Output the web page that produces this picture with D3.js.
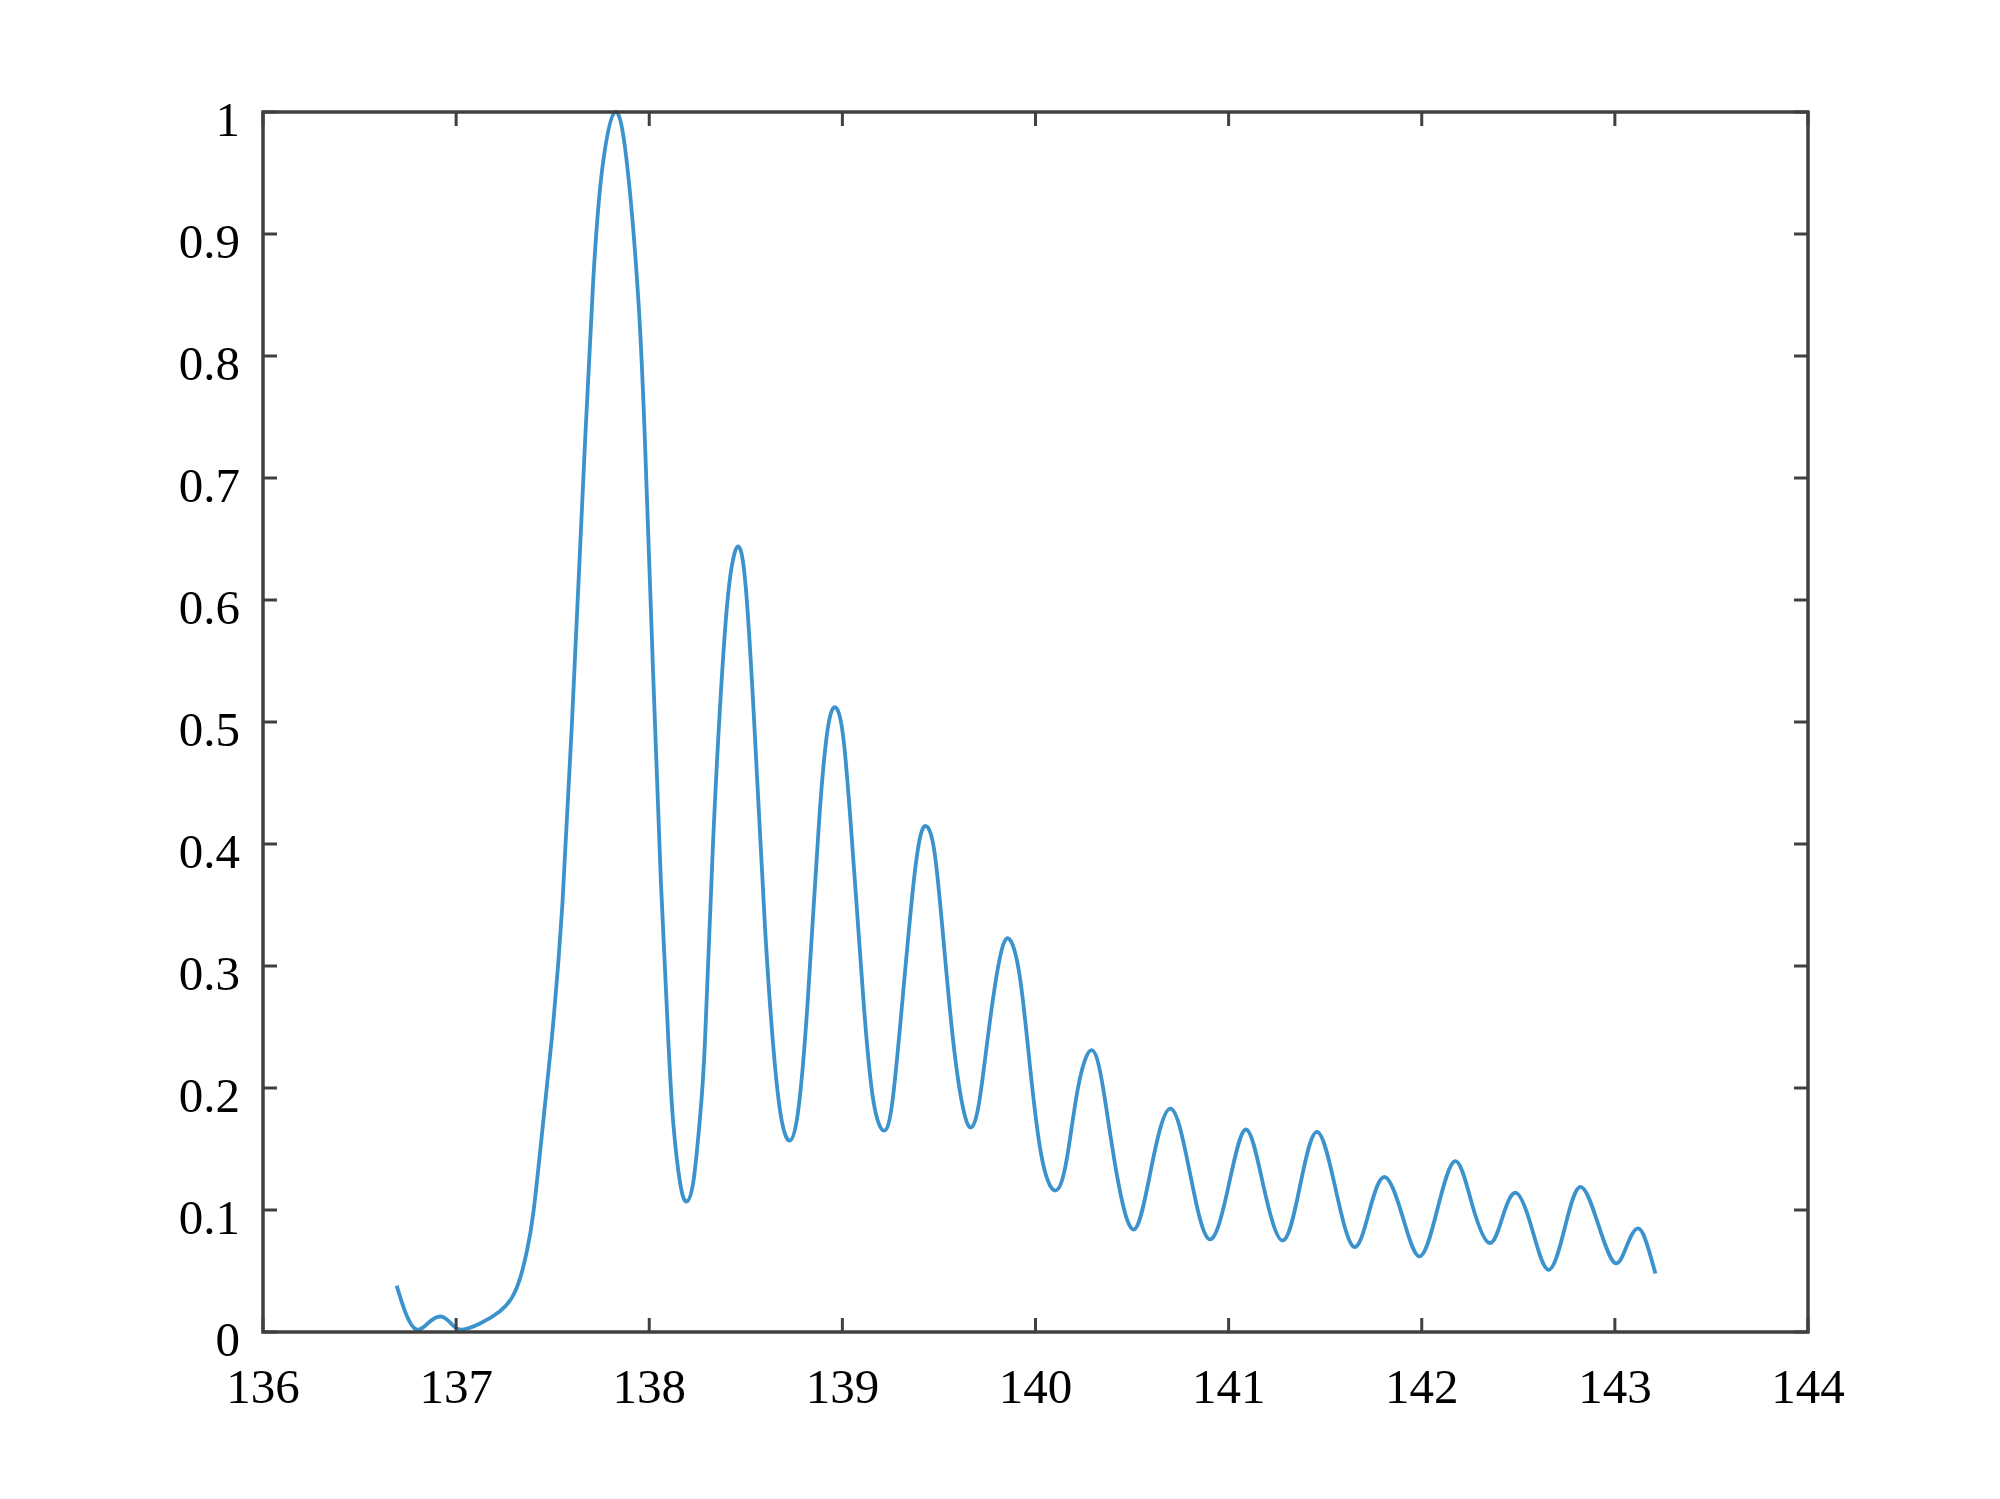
<!DOCTYPE html>
<html>
<head>
<meta charset="utf-8">
<script src="https://cdn.jsdelivr.net/npm/d3@7"></script>
<style>
  body { margin: 0; background: #fff; }
  svg { display: block; }
</style>
</head>
<body>
<svg id="chart" width="2000" height="1499"></svg>
<script>
// values
var xs = [136.692, 136.74, 136.796, 136.86, 136.925, 136.98, 137.029, 137.124, 137.227, 137.288,
  137.331, 137.366, 137.40, 137.443, 137.495, 137.55, 137.60, 137.65, 137.71, 137.762,
  137.823, 137.883, 137.944, 137.98, 138.02, 138.06, 138.10, 138.125, 138.16, 138.194,
  138.23, 138.263, 138.289, 138.33, 138.39, 138.43, 138.461, 138.50, 138.55, 138.60,
  138.65, 138.69, 138.729, 138.77, 138.82, 138.88, 138.93, 138.971, 139.01, 139.06,
  139.11, 139.16, 139.216, 139.26, 139.31, 139.37, 139.41, 139.44, 139.48, 139.53,
  139.58, 139.63, 139.67, 139.71, 139.76, 139.82, 139.87, 139.92, 139.97, 140.03,
  140.10, 140.16, 140.22, 140.29, 140.35, 140.42, 140.51, 140.60, 140.70, 140.80,
  140.90, 141.00, 141.09, 141.18, 141.28, 141.37, 141.457, 141.55, 141.646, 141.73,
  141.81, 141.90, 141.99, 142.08, 142.173, 142.26, 142.35, 142.42, 142.49, 142.57,
  142.656, 142.74, 142.82, 142.91, 142.996, 143.06, 143.12, 143.17, 143.21]
var ys = [0.038, 0.015, 0.002, 0.008, 0.0126, 0.006, 0.002, 0.007, 0.017, 0.028,
  0.044, 0.066, 0.098, 0.16, 0.24, 0.35, 0.50, 0.67, 0.862, 0.96,
  1.0, 0.96, 0.845, 0.72, 0.54, 0.37, 0.235, 0.170, 0.122, 0.107,
  0.125, 0.176, 0.24, 0.40, 0.57, 0.63, 0.644, 0.61, 0.48, 0.33,
  0.22, 0.17, 0.157, 0.18, 0.27, 0.42, 0.50, 0.511, 0.48, 0.38,
  0.27, 0.19, 0.165, 0.19, 0.27, 0.37, 0.41, 0.414, 0.39, 0.31,
  0.23, 0.18, 0.168, 0.19, 0.25, 0.31, 0.321, 0.29, 0.22, 0.145,
  0.116, 0.14, 0.20, 0.231, 0.20, 0.13, 0.084, 0.135, 0.183, 0.13,
  0.076, 0.12, 0.166, 0.12, 0.075, 0.12, 0.164, 0.12, 0.070, 0.10,
  0.127, 0.095, 0.062, 0.10, 0.140, 0.105, 0.073, 0.095, 0.114, 0.085,
  0.051, 0.085, 0.119, 0.09, 0.057, 0.07, 0.085, 0.07, 0.048]

var xTicks = [136, 137, 138, 139, 140, 141, 142, 143, 144]
var yTicks = [0, 0.1, 0.2, 0.3, 0.4, 0.5, 0.6, 0.7, 0.8, 0.9, 1]

var plotLeft = 263, plotRight = 1808, plotTop = 112, plotBottom = 1332
var tickLen = 14
var axisColor = "#404040"
var font = "'Liberation Serif', 'Times New Roman', serif"

var svg = d3.select("#chart")
svg.append("rect").attr("width", 2000).attr("height", 1499).attr("fill", "#fff")

var x = d3.scaleLinear().domain([136, 144]).range([plotLeft, plotRight])
var y = d3.scaleLinear().domain([0, 1]).range([plotBottom, plotTop])

var pts = xs.map(function (d, i) { return [d, ys[i]] })

var line = d3.line()
    .x(function (d) { return x(d[0]) })
    .y(function (d) { return y(d[1]) })
    .curve(d3.curveNatural)

svg.append("path")
    .datum(pts)
    .attr("d", line)
    .attr("fill", "none")
    .attr("stroke", "#3b92cc")
    .attr("stroke-width", 3.8)
    .attr("stroke-linejoin", "round")

// inward ticks on all four sides, MATLAB style
var g = svg.append("g")
    .attr("stroke", axisColor)
    .attr("stroke-width", 3)

g.selectAll(".xb").data(xTicks).enter().append("line")
    .attr("x1", function (d) { return x(d) }).attr("x2", function (d) { return x(d) })
    .attr("y1", plotBottom).attr("y2", plotBottom - tickLen)
g.selectAll(".xt").data(xTicks).enter().append("line")
    .attr("x1", function (d) { return x(d) }).attr("x2", function (d) { return x(d) })
    .attr("y1", plotTop).attr("y2", plotTop + tickLen)
g.selectAll(".yl").data(yTicks).enter().append("line")
    .attr("y1", function (d) { return y(d) }).attr("y2", function (d) { return y(d) })
    .attr("x1", plotLeft).attr("x2", plotLeft + tickLen)
g.selectAll(".yr").data(yTicks).enter().append("line")
    .attr("y1", function (d) { return y(d) }).attr("y2", function (d) { return y(d) })
    .attr("x1", plotRight).attr("x2", plotRight - tickLen)

svg.append("rect")
    .attr("x", plotLeft).attr("y", plotTop)
    .attr("width", plotRight - plotLeft).attr("height", plotBottom - plotTop)
    .attr("fill", "none")
    .attr("stroke", axisColor)
    .attr("stroke-width", 3.5)

svg.selectAll(".xlab").data(xTicks).enter().append("text")
    .attr("x", function (d) { return x(d) })
    .attr("y", plotBottom + 71)
    .attr("text-anchor", "middle")
    .style("font-family", font)
    .style("font-size", "49px")
    .attr("fill", "#000")
    .text(function (d) { return d })

svg.selectAll(".ylab").data(yTicks).enter().append("text")
    .attr("x", plotLeft - 23)
    .attr("y", function (d) { return y(d) + 24 })
    .attr("text-anchor", "end")
    .style("font-family", font)
    .style("font-size", "49px")
    .attr("fill", "#000")
    .text(function (d) { return d })
</script>
</body>
</html>
